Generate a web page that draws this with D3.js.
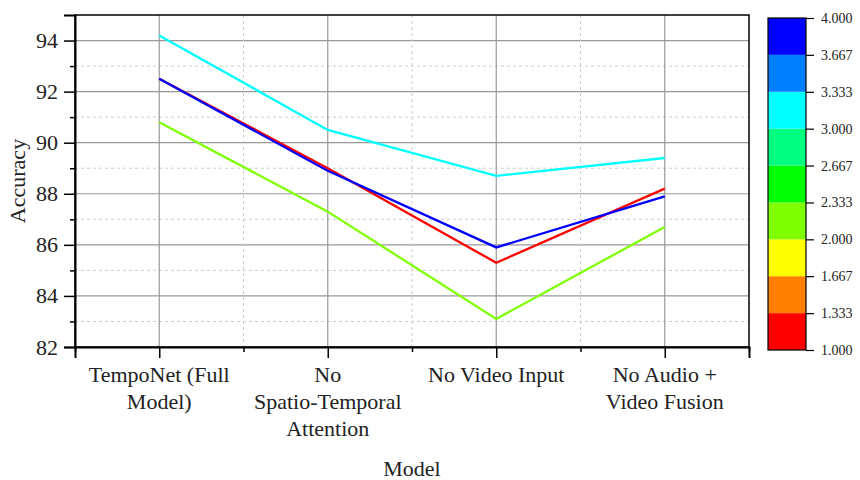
<!DOCTYPE html>
<html>
<head>
<meta charset="utf-8">
<script src="https://d3js.org/d3.v7.min.js"></script>
<style>
  body { margin: 0; background: #fff; font-family: "Liberation Serif", "Times New Roman", serif; }
  svg text { font-family: "Liberation Serif", "Times New Roman", serif; fill: #222; }
</style>
</head>
<body>
<svg id="chart" width="860" height="480"></svg>
<script>
// data
const categories = ["TempoNet (Full Model)", "No Spatio-Temporal Attention", "No Video Input", "No Audio + Video Fusion"];
const tickLabels = [["TempoNet (Full", "Model)"], ["No", "Spatio-Temporal", "Attention"], ["No Video Input"], ["No Audio +", "Video Fusion"]];
const series1 = [92.5, 89.0, 85.3, 88.2]; // red
const series2 = [90.8, 87.3, 83.1, 86.7]; // yellow-green
const series3 = [94.2, 90.5, 88.7, 89.4]; // cyan
const series4 = [92.5, 88.9, 85.9, 87.9]; // blue
const seriesLevels = [1, 2, 3, 4];
const barColors = ["#ff0000", "#ff8000", "#ffff00", "#80ff00", "#00ff00", "#00ff80", "#00ffff", "#0080ff", "#0000ff"];
const barTicks = [1.000, 1.333, 1.667, 2.000, 2.333, 2.667, 3.000, 3.333, 3.667, 4.000];

const svg = d3.select("#chart");
const pLeft = 75, pRight = 749, pTop = 15, pBottom = 347;

const x = d3.scaleLinear().domain([-0.5, categories.length - 0.5]).range([pLeft, pRight]);
const y = d3.scaleLinear().domain([82, 95]).range([pBottom, pTop]);

// color of a series from its level on the color bar
const barScale = d3.scaleLinear().domain([1, 4]).range([0, barColors.length]);
const levelColor = v => barColors[Math.min(barColors.length - 1, Math.floor(barScale(v) + 1e-6))];

// grid
const g = svg.append("g");
d3.range(83, 95, 1).forEach(v => {
  g.append("line").attr("x1", pLeft).attr("x2", pRight).attr("y1", y(v)).attr("y2", y(v))
    .attr("stroke", v % 2 === 0 ? "#999" : "#ccc")
    .attr("stroke-width", v % 2 === 0 ? 1.2 : 1)
    .attr("stroke-dasharray", v % 2 === 0 ? null : "3,3");
});
d3.range(0, categories.length - 0.5, 0.5).forEach(i => {
  const major = Number.isInteger(i);
  g.append("line").attr("x1", x(i)).attr("x2", x(i)).attr("y1", pTop).attr("y2", pBottom)
    .attr("stroke", major ? "#999" : "#ccc")
    .attr("stroke-width", major ? 1.2 : 1)
    .attr("stroke-dasharray", major ? null : "3,3");
});

// lines
const allSeries = [series1, series2, series3, series4];
const line = d3.line().x((d, i) => x(i)).y(d => y(d));
allSeries.forEach((s, k) => {
  svg.append("path").datum(s).attr("d", line)
    .attr("fill", "none").attr("stroke", levelColor(seriesLevels[k]))
    .attr("stroke-width", 2.3).attr("stroke-linejoin", "miter");
});

// frame
svg.append("rect").attr("x", pLeft).attr("y", pTop).attr("width", pRight - pLeft).attr("height", pBottom - pTop)
  .attr("fill", "none").attr("stroke", "#000").attr("stroke-width", 1.5);

// y axis
const yAxis = svg.append("g").attr("transform", `translate(${pLeft},0)`)
  .call(d3.axisLeft(y).tickValues(d3.range(82, 95, 2)).tickSize(11).tickPadding(6).tickFormat(d3.format("d")));
yAxis.select(".domain").attr("stroke-width", 2);
yAxis.selectAll(".tick line").attr("stroke-width", 1.5);
yAxis.selectAll("text").attr("font-size", 22).attr("fill", "#222");
const yMinor = svg.append("g").attr("transform", `translate(${pLeft},0)`)
  .call(d3.axisLeft(y).tickValues(d3.range(83, 95, 2)).tickSize(5).tickFormat(""));
yMinor.select(".domain").remove();
yMinor.selectAll(".tick line").attr("stroke-width", 1.5);

// x axis
const xAxis = svg.append("g").attr("transform", `translate(0,${pBottom})`)
  .call(d3.axisBottom(x).tickValues(d3.range(categories.length)).tickSize(11).tickFormat(""));
xAxis.select(".domain").attr("stroke-width", 2);
xAxis.selectAll(".tick line").attr("stroke-width", 1.5);
const xMinor = svg.append("g").attr("transform", `translate(0,${pBottom})`)
  .call(d3.axisBottom(x).tickValues(d3.range(-0.5, categories.length, 1)).tickSize(5).tickFormat(""));
xMinor.select(".domain").remove();
xMinor.selectAll(".tick line").attr("stroke-width", 1.5);

tickLabels.forEach((lines, i) => {
  const t = svg.append("text").attr("x", x(i)).attr("y", 382).attr("text-anchor", "middle").attr("font-size", 22);
  lines.forEach((l, j) => t.append("tspan").attr("x", x(i)).attr("dy", j === 0 ? 0 : 27).text(l));
});

svg.append("text").attr("x", (pLeft + pRight) / 2).attr("y", 476).attr("text-anchor", "middle")
  .attr("font-size", 22).text("Model");
svg.append("text").attr("transform", `translate(25,${(pTop + pBottom) / 2}) rotate(-90)`)
  .attr("text-anchor", "middle").attr("font-size", 22).text("Accuracy");

// color bar
const cbX = 768, cbW = 38, cbTop = 18, cbBottom = 350;
const cb = d3.scaleLinear().domain([1, 4]).range([cbBottom, cbTop]);
barColors.forEach((c, i) => {
  svg.append("rect").attr("x", cbX).attr("width", cbW)
    .attr("y", cb(barTicks[i + 1])).attr("height", cb(barTicks[i]) - cb(barTicks[i + 1]))
    .attr("fill", c);
});
svg.append("rect").attr("x", cbX).attr("y", cbTop).attr("width", cbW).attr("height", cbBottom - cbTop)
  .attr("fill", "none").attr("stroke", "#000").attr("stroke-width", 1.2);
const cbAxis = svg.append("g").attr("transform", `translate(${cbX + cbW},0)`)
  .call(d3.axisRight(cb).tickValues(barTicks).tickSize(8).tickPadding(7).tickFormat(d3.format(".3f")));
cbAxis.select(".domain").remove();
cbAxis.selectAll(".tick line").attr("stroke-width", 1.2);
cbAxis.selectAll("text").attr("font-size", 14).attr("fill", "#222");
</script>
</body>
</html>
